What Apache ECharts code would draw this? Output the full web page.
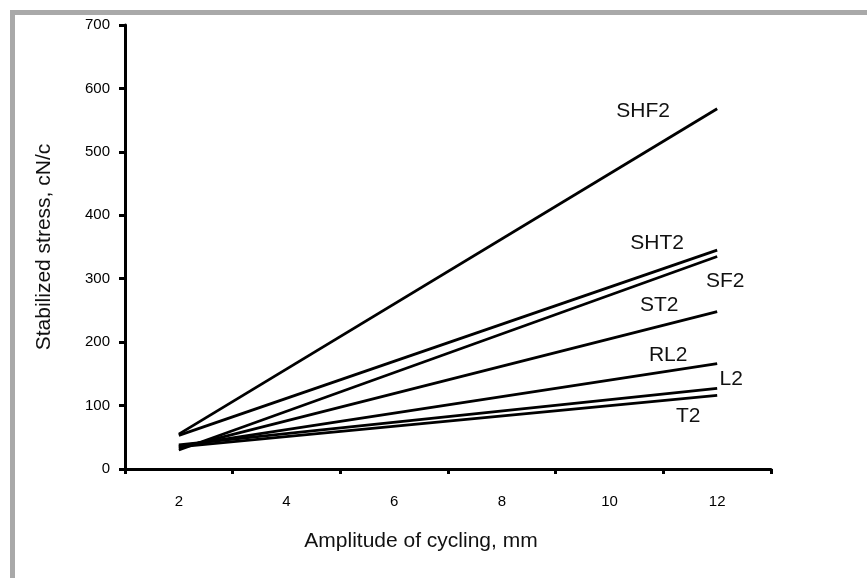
<!DOCTYPE html>
<html>
<head>
<meta charset="utf-8">
<script src="https://cdn.jsdelivr.net/npm/echarts@6/dist/echarts.min.js"></script>
<style>
html,body{margin:0;padding:0;background:#fff;}
#c{width:867px;height:578px;}
</style>
</head>
<body>
<div id="c"></div>
<script>
// ---- data ----
const categories = ['2', '4', '6', '8', '10', '12'];
const seriesNames = ['SHF2', 'SHT2', 'SF2', 'ST2', 'RL2', 'L2', 'T2'];
const SHF2 = [55, null, null, null, null, 568];
const SHT2 = [53, null, null, null, null, 345];
const SF2  = [30, null, null, null, null, 335];
const ST2  = [33, null, null, null, null, 248];
const RL2  = [36, null, null, null, null, 166];
const L2   = [38, null, null, null, null, 127];
const T2   = [35, null, null, null, null, 116];
const seriesValues = [SHF2, SHT2, SF2, ST2, RL2, L2, T2];
const yTicks = { min: 0, max: 700, interval: 100 };

// label offsets (px) from each line's end point - styling only
const labelOffsets = {
  SHF2: [-74, 2], SHT2: [-60, -7], SF2: [8, 25], ST2: [-58, -6],
  RL2: [-49, -9], L2: [14, -9], T2: [-29, 21]
};

const FONT = 'Liberation Sans, Arial, sans-serif';
const chart = echarts.init(document.getElementById('c'), null, { renderer: 'canvas' });

const option = {
  animation: false,
  backgroundColor: '#fff',
  grid: { left: 125, right: 96, top: 25, bottom: 109, containLabel: false },
  xAxis: {
    type: 'category',
    data: categories,
    boundaryGap: true,
    name: 'Amplitude of cycling, mm',
    nameLocation: 'middle',
    nameGap: 62,
    nameTextStyle: { fontFamily: FONT, fontSize: 21, color: '#111', padding: [0, 54, 0, 0] },
    axisLine: { lineStyle: { color: '#000', width: 3 } },
    axisTick: { show: true, inside: false, length: 5, lineStyle: { color: '#000', width: 3 } },
    axisLabel: { fontFamily: FONT, fontSize: 15, color: '#000', margin: 25 },
    splitLine: { show: false }
  },
  yAxis: {
    type: 'value',
    min: yTicks.min, max: yTicks.max, interval: yTicks.interval,
    name: 'Stabilized stress, cN/c',
    nameLocation: 'middle',
    nameGap: 70,
    nameRotate: 90,
    nameTextStyle: { fontFamily: FONT, fontSize: 21, color: '#111' },
    axisLine: { show: true, lineStyle: { color: '#000', width: 3 } },
    axisTick: { show: true, inside: false, length: 6, lineStyle: { color: '#000', width: 3 } },
    axisLabel: { fontFamily: FONT, fontSize: 15, color: '#000', margin: 15 },
    splitLine: { show: false }
  },
  series: seriesNames.map((n, i) => ({
    name: n,
    type: 'line',
    data: seriesValues[i],
    connectNulls: true,
    showSymbol: false,
    symbol: 'none',
    silent: true,
    lineStyle: { color: '#000', width: 2.8 }
  }))
};
chart.setOption(option);

// Labels placed relative to each line's last point via the chart's own scales
const last = categories.length - 1;
const graphics = [{
  type: 'rect',
  shape: { x: 12.5, y: 12.5, width: 900, height: 600 },
  style: { fill: 'none', stroke: '#a9a9a9', lineWidth: 5 },
  silent: true, z: 100
}];
seriesNames.forEach((n, i) => {
  const p = chart.convertToPixel({ gridIndex: 0 }, [last, seriesValues[i][last]]);
  const off = labelOffsets[n];
  graphics.push({
    type: 'text',
    x: p[0] + off[0], y: p[1] + off[1],
    style: { text: n, fontFamily: FONT, fontSize: 21, fill: '#111', textAlign: 'center', textVerticalAlign: 'middle' },
    silent: true
  });
});
chart.setOption({ graphic: graphics });
</script>
</body>
</html>
